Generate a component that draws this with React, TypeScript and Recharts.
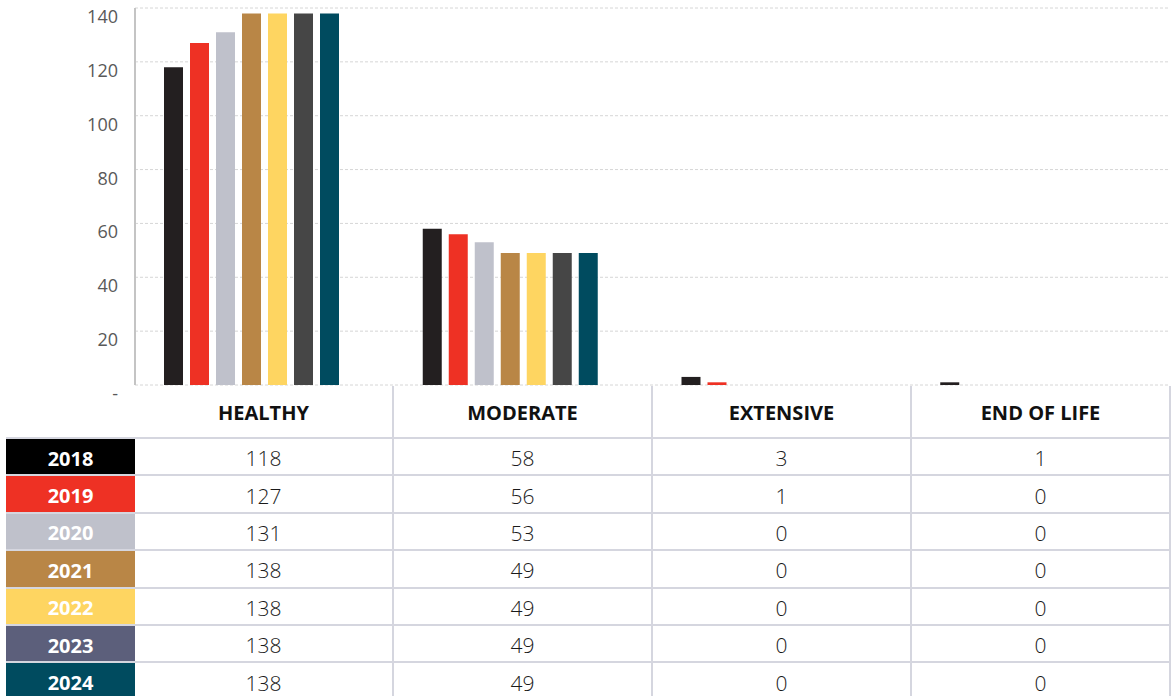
import React from "react";
import { BarChart, Bar, XAxis, YAxis, CartesianGrid } from "recharts";

const categories = ["HEALTHY", "MODERATE", "EXTENSIVE", "END OF LIFE"];
const years = ["2018", "2019", "2020", "2021", "2022", "2023", "2024"];
const v2018 = [118, 58, 3, 1];
const v2019 = [127, 56, 1, 0];
const v2020 = [131, 53, 0, 0];
const v2021 = [138, 49, 0, 0];
const v2022 = [138, 49, 0, 0];
const v2023 = [138, 49, 0, 0];
const v2024 = [138, 49, 0, 0];
const yTicks = [0, 20, 40, 60, 80, 100, 120, 140];

const seriesValues = [v2018, v2019, v2020, v2021, v2022, v2023, v2024];
const barColors = ["#231f20", "#ee3124", "#bfc1cb", "#b98646", "#fed561", "#464646", "#004b5f"];
const labelColors = ["#000000", "#ee3124", "#bfc1cb", "#b98646", "#fed561", "#5c5f7b", "#004b5f"];

const data = categories.map((c, i) => {
  const row: any = { category: c };
  years.forEach((y, j) => {
    row[y] = seriesValues[j][i];
  });
  return row;
});

const FONT = "'Open Sans', 'DejaVu Sans', sans-serif";

const YTick = (props: any) => {
  const { x, y, payload } = props;
  return (
    <text x={x} y={y} dy={15} textAnchor="end" fill="#595959" fontSize={18} fontFamily={FONT}>
      {payload.value === 0 ? "-" : payload.value}
    </text>
  );
};

const border = "2px solid #d5d6df";
const colWidths = [129, 259, 259, 259, 259];

export default function App() {
  return (
    <div
      style={{
        position: "absolute",
        top: 0,
        left: 0,
        width: 1171,
        height: 696,
        overflow: "hidden",
        background: "#fff",
        fontFamily: FONT,
      }}
    >
      <BarChart
        width={1171}
        height={410}
        data={data}
        margin={{ top: 8, right: 1, bottom: 25, left: 0 }}
        barSize={19}
        barGap={7}
      >
        <CartesianGrid vertical={false} stroke="#d6d6d6" strokeDasharray="3 2" />
        <XAxis
          dataKey="category"
          tick={false}
          tickLine={false}
          height={0}
          axisLine={{ stroke: "#c4c4c4", strokeWidth: 2 }}
        />
        <YAxis
          width={135}
          domain={[0, 140]}
          ticks={yTicks}
          tick={<YTick />}
          tickLine={false}
          tickMargin={11}
          axisLine={{ stroke: "#c4c4c4", strokeWidth: 2 }}
          interval={0}
        />
        {years.map((y, j) => (
          <Bar key={y} dataKey={y} fill={barColors[j]} isAnimationActive={false} />
        ))}
        <Bar dataKey="spacer" fill="none" isAnimationActive={false} />
      </BarChart>
      <div style={{ position: "absolute", top: 386, left: 6 }}>
        <div style={{ display: "flex", height: 53, borderBottom: border, boxSizing: "border-box" }}>
          <div style={{ width: colWidths[0] }} />
          {categories.map((c, i) => (
            <div
              key={c}
              style={{
                width: colWidths[i + 1],
                boxSizing: "border-box",
                borderRight: border,
                display: "flex",
                alignItems: "center",
                justifyContent: "center",
                fontWeight: 700,
                fontSize: 20,
                paddingTop: 2,
                color: "#111",
              }}
            >
              {c}
            </div>
          ))}
        </div>
        {years.map((y, j) => (
          <div key={y} style={{ display: "flex", height: 37.4, borderBottom: border, boxSizing: "border-box" }}>
            <div
              style={{
                width: colWidths[0],
                background: labelColors[j],
                color: "#fff",
                fontWeight: 700,
                fontSize: 20,
                paddingTop: 3,
                boxSizing: "border-box",
                display: "flex",
                alignItems: "center",
                justifyContent: "center",
              }}
            >
              {y}
            </div>
            {categories.map((c, i) => (
              <div
                key={c}
                style={{
                  width: colWidths[i + 1],
                  boxSizing: "border-box",
                  borderRight: border,
                  display: "flex",
                  alignItems: "center",
                  justifyContent: "center",
                  fontSize: 21,
                  fontWeight: 300,
                  paddingTop: 3,
                  color: "#1a1a1a",
                }}
              >
                {seriesValues[j][i]}
              </div>
            ))}
          </div>
        ))}
      </div>
    </div>
  );
}
